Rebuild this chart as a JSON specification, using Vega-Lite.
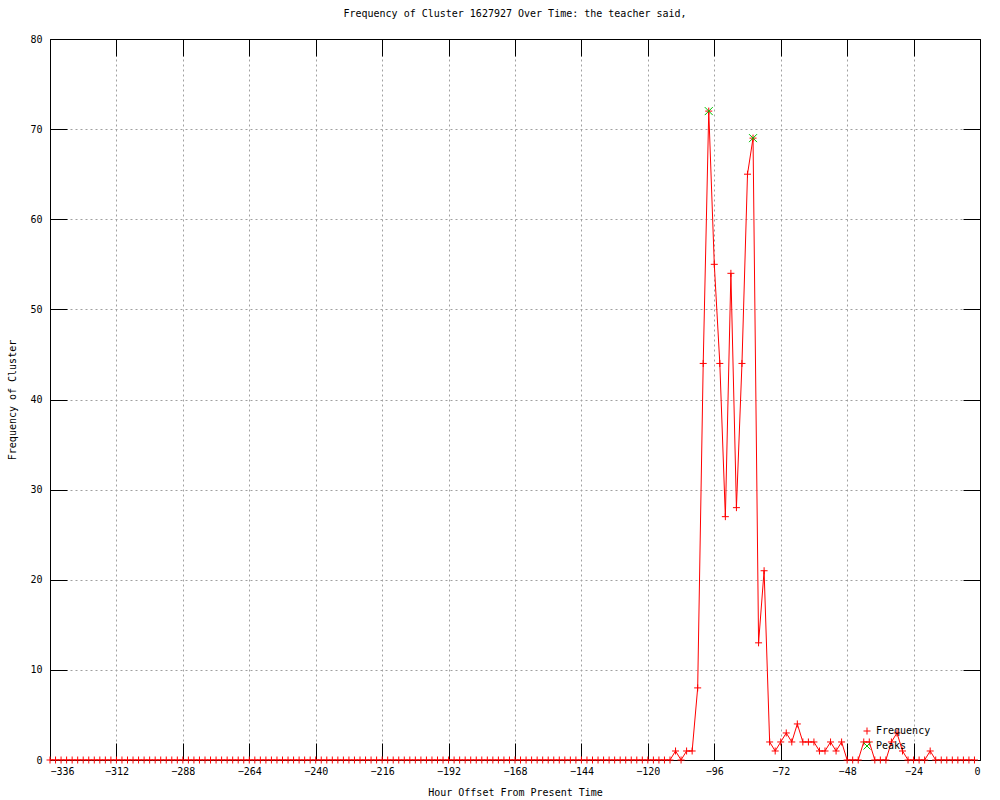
{
  "$schema": "https://vega.github.io/schema/vega-lite/v6.json",
  "width": 930,
  "height": 721,
  "autosize": "none",
  "padding": {"left": 50, "top": 39, "right": 20, "bottom": 40},
  "background": "white",
  "title": {"text": "Frequency of Cluster 1627927 Over Time: the teacher said,", "font": "DejaVu Sans Mono", "fontSize": 10, "fontWeight": "normal", "color": "black", "offset": 15, "anchor": "middle"},
  "config": {
    "view": {"stroke": null},
    "axis": {"labelFont": "DejaVu Sans Mono", "labelFontSize": 10, "labelColor": "black", "titleFont": "DejaVu Sans Mono", "titleFontSize": 10, "titleFontWeight": "normal", "titleColor": "black", "domainColor": "black", "domainWidth": 1, "tickColor": "black", "tickWidth": 1, "gridColor": "#a0a0a0", "gridDash": [2, 3], "gridOpacity": 1, "gridWidth": 1},
    "legend": {"labelFont": "DejaVu Sans Mono", "labelFontSize": 10, "labelColor": "black"}
  },
  "datasets": {
    "freq": [
      {"h":-336,"f":0},{"h":-334,"f":0},{"h":-332,"f":0},{"h":-330,"f":0},{"h":-328,"f":0},{"h":-326,"f":0},{"h":-324,"f":0},{"h":-322,"f":0},{"h":-320,"f":0},{"h":-318,"f":0},{"h":-316,"f":0},{"h":-314,"f":0},{"h":-312,"f":0},{"h":-310,"f":0},{"h":-308,"f":0},{"h":-306,"f":0},{"h":-304,"f":0},{"h":-302,"f":0},{"h":-300,"f":0},{"h":-298,"f":0},{"h":-296,"f":0},{"h":-294,"f":0},{"h":-292,"f":0},{"h":-290,"f":0},{"h":-288,"f":0},{"h":-286,"f":0},{"h":-284,"f":0},{"h":-282,"f":0},{"h":-280,"f":0},{"h":-278,"f":0},{"h":-276,"f":0},{"h":-274,"f":0},{"h":-272,"f":0},{"h":-270,"f":0},{"h":-268,"f":0},{"h":-266,"f":0},{"h":-264,"f":0},{"h":-262,"f":0},{"h":-260,"f":0},{"h":-258,"f":0},{"h":-256,"f":0},{"h":-254,"f":0},{"h":-252,"f":0},{"h":-250,"f":0},{"h":-248,"f":0},{"h":-246,"f":0},{"h":-244,"f":0},{"h":-242,"f":0},{"h":-240,"f":0},{"h":-238,"f":0},{"h":-236,"f":0},{"h":-234,"f":0},{"h":-232,"f":0},{"h":-230,"f":0},{"h":-228,"f":0},{"h":-226,"f":0},{"h":-224,"f":0},{"h":-222,"f":0},{"h":-220,"f":0},{"h":-218,"f":0},{"h":-216,"f":0},{"h":-214,"f":0},{"h":-212,"f":0},{"h":-210,"f":0},{"h":-208,"f":0},{"h":-206,"f":0},{"h":-204,"f":0},{"h":-202,"f":0},{"h":-200,"f":0},{"h":-198,"f":0},{"h":-196,"f":0},{"h":-194,"f":0},{"h":-192,"f":0},{"h":-190,"f":0},{"h":-188,"f":0},{"h":-186,"f":0},{"h":-184,"f":0},{"h":-182,"f":0},{"h":-180,"f":0},{"h":-178,"f":0},{"h":-176,"f":0},{"h":-174,"f":0},{"h":-172,"f":0},{"h":-170,"f":0},{"h":-168,"f":0},{"h":-166,"f":0},{"h":-164,"f":0},{"h":-162,"f":0},{"h":-160,"f":0},{"h":-158,"f":0},{"h":-156,"f":0},{"h":-154,"f":0},{"h":-152,"f":0},{"h":-150,"f":0},{"h":-148,"f":0},{"h":-146,"f":0},{"h":-144,"f":0},{"h":-142,"f":0},{"h":-140,"f":0},{"h":-138,"f":0},{"h":-136,"f":0},{"h":-134,"f":0},{"h":-132,"f":0},{"h":-130,"f":0},{"h":-128,"f":0},{"h":-126,"f":0},{"h":-124,"f":0},{"h":-122,"f":0},{"h":-120,"f":0},{"h":-118,"f":0},{"h":-116,"f":0},{"h":-114,"f":0},{"h":-112,"f":0},
      {"h":-110,"f":1},{"h":-108,"f":0},{"h":-106,"f":1},{"h":-104,"f":1},{"h":-102,"f":8},{"h":-100,"f":44},{"h":-98,"f":72},{"h":-96,"f":55},{"h":-94,"f":44},{"h":-92,"f":27},{"h":-90,"f":54},{"h":-88,"f":28},{"h":-86,"f":44},{"h":-84,"f":65},{"h":-82,"f":69},{"h":-80,"f":13},{"h":-78,"f":21},{"h":-76,"f":2},{"h":-74,"f":1},{"h":-72,"f":2},{"h":-70,"f":3},{"h":-68,"f":2},{"h":-66,"f":4},{"h":-64,"f":2},{"h":-62,"f":2},{"h":-60,"f":2},{"h":-58,"f":1},{"h":-56,"f":1},{"h":-54,"f":2},{"h":-52,"f":1},{"h":-50,"f":2},{"h":-48,"f":0},{"h":-46,"f":0},{"h":-44,"f":0},{"h":-42,"f":2},{"h":-40,"f":2},{"h":-38,"f":0},{"h":-36,"f":0},{"h":-34,"f":0},{"h":-32,"f":2},{"h":-30,"f":3},{"h":-28,"f":1},{"h":-26,"f":0},{"h":-24,"f":0},{"h":-22,"f":0},{"h":-20,"f":0},{"h":-18,"f":1},{"h":-16,"f":0},{"h":-14,"f":0},{"h":-12,"f":0},{"h":-10,"f":0},{"h":-8,"f":0},{"h":-6,"f":0},{"h":-4,"f":0},{"h":-2,"f":0}
    ],
    "peaks": [
      {"h":-98,"f":72,"s":"Peaks"},{"h":-82,"f":69,"s":"Peaks"}
    ]
  },
  "layer": [
    {
      "data": {"name": "freq"},
      "mark": {"type": "line", "stroke": "#ff0000", "strokeWidth": 1, "clip": true},
      "encoding": {
        "x": {"field": "h", "type": "quantitative", "scale": {"domain": [-336, 0], "nice": false, "zero": false},
          "axis": {"orient": "bottom", "values": [-336,-312,-288,-264,-240,-216,-192,-168,-144,-120,-96,-72,-48,-24,0], "grid": true, "tickSize": -17, "labelPadding": 23, "title": "Hour Offset From Present Time", "titlePadding": 11}},
        "y": {"field": "f", "type": "quantitative", "scale": {"domain": [0, 80], "nice": false},
          "axis": {"orient": "left", "values": [0,10,20,30,40,50,60,70,80], "grid": true, "tickSize": -17, "labelPadding": 25, "title": "Frequency of Cluster", "titlePadding": 12}}
      }
    },
    {
      "data": {"name": "freq"},
      "transform": [{"calculate": "'Frequency'", "as": "s"}],
      "mark": {"type": "point", "filled": false, "strokeWidth": 1, "size": 49, "opacity": 1},
      "encoding": {
        "x": {"field": "h", "type": "quantitative", "axis": {"orient": "top", "values": [-336,-312,-288,-264,-240,-216,-192,-168,-144,-120,-96,-72,-48,-24,0], "grid": false, "labels": false, "tickSize": -17, "title": null}},
        "y": {"field": "f", "type": "quantitative", "axis": {"orient": "right", "values": [0,10,20,30,40,50,60,70,80], "grid": false, "labels": false, "tickSize": -17, "title": null}},
        "color": {"field": "s", "type": "nominal", "scale": {"domain": ["Frequency", "Peaks"], "range": ["#ff0000", "#00c000"]},
          "legend": {"title": null, "orient": "none", "legendX": 812, "legendY": 687, "symbolStrokeWidth": 1, "symbolSize": 49, "rowPadding": 3}},
        "shape": {"field": "s", "type": "nominal", "scale": {"domain": ["Frequency", "Peaks"], "range": ["M-1,0L1,0M0,-1L0,1", "M-1,-1L1,1M-1,1L1,-1"]}, "legend": {"title": null, "orient": "none", "legendX": 812, "legendY": 687}}
      }
    },
    {
      "data": {"name": "peaks"},
      "mark": {"type": "point", "filled": false, "strokeWidth": 1, "size": 64, "opacity": 1},
      "encoding": {
        "x": {"field": "h", "type": "quantitative", "axis": null},
        "y": {"field": "f", "type": "quantitative", "axis": null},
        "color": {"field": "s", "type": "nominal"},
        "shape": {"field": "s", "type": "nominal"}
      }
    }
  ],
  "resolve": {"axis": {"x": "independent", "y": "independent"}}
}
